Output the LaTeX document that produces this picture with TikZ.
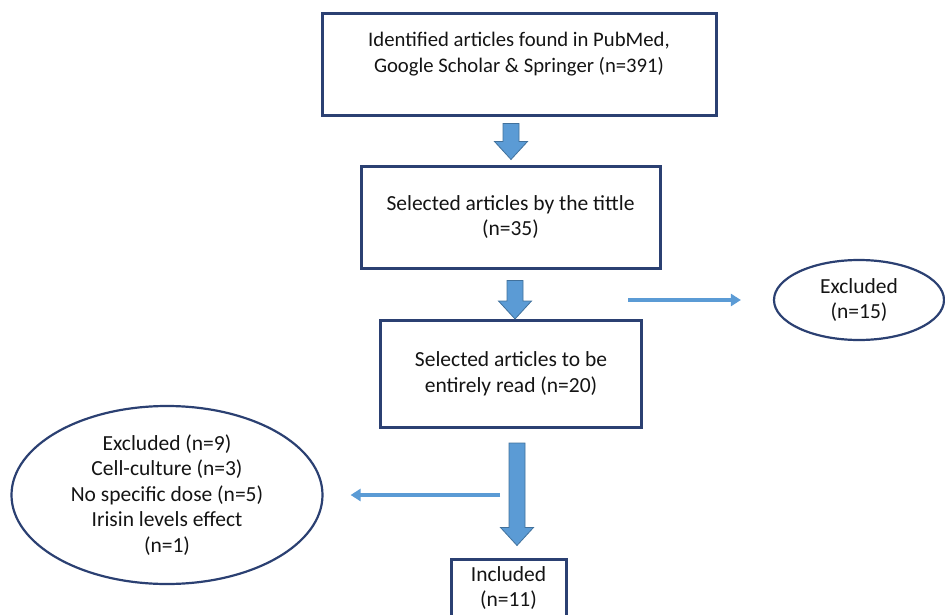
\documentclass[tikz,border=0pt]{standalone}
\usepackage{fontspec}
\setmainfont{Carlito}
\usetikzlibrary{shapes.geometric,arrows.meta,calc}
\definecolor{boxnavy}{HTML}{2B4072}
\definecolor{flowblue}{HTML}{5B9BD5}
\definecolor{flowedge}{HTML}{41719C}
% block arrow: #1 start of the shaft, #2 tip (only its y is used)
\newcommand{\flowdown}[2]{%
	\filldraw[flowarrow] let \p1=(#1), \p2=(#2) in (\x1-8pt,\y1)--(\x1+8pt,\y1)--(\x1+8pt,\y2+18pt)--(\x1+16.5pt,\y2+18pt)--(\x1,\y2)--(\x1-16.5pt,\y2+18pt)--(\x1-8pt,\y2+18pt)--cycle;}
\begin{document}
\begin{tikzpicture}[x=1pt,y=-1pt,
	font=\fontsize{21.5}{25.5}\selectfont,
	stage/.style={draw=boxnavy,line width=3pt,rectangle,align=center,inner sep=0pt,text=black!92},
	drop/.style={draw=boxnavy,line width=2.2pt,ellipse,align=center,inner sep=0pt,text=black!92},
	flowarrow/.style={fill=flowblue,draw=flowedge,line width=0.8pt,line join=miter},
	thinarrow/.style={draw=flowblue,line width=3.2pt,-{Triangle[length=10pt,width=12pt]}}]
	\useasboundingbox (0,0) rectangle (945,615);
	\node[stage,minimum width=394pt,minimum height=102pt,font=\fontsize{20.7}{25.5}\selectfont] (found) at (519,65) {Identified articles found in PubMed,\\Google Scholar \& Springer (n=391)\\\mbox{}};
	\node[stage,minimum width=299pt,minimum height=102pt] (title) at (510.5,217) {Selected articles by the tittle\\(n=35)};
	\node[stage,minimum width=261pt,minimum height=107pt] (read) at (511,374) {Selected articles to be\\entirely read (n=20)};
	\node[stage,minimum width=115pt,minimum height=58pt] (incl) at (508.5,588) {Included\\(n=11)};
	\node[drop,minimum width=170pt,minimum height=80pt] (excl1) at (859,300) {Excluded\\(n=15)};
	\node[drop,minimum width=311pt,minimum height=178pt] (excl2) at (167,495) {Excluded (n=9)\\Cell-culture (n=3)\\No specific dose (n=5)\\Irisin levels effect\\(n=1)};
	%\draw[step=10, gray!30](0,0)grid(945,615);
	\flowdown{[xshift=-8pt,yshift=-6pt]found.south}{[yshift=5pt]title.north}
	\flowdown{[xshift=4.5pt,yshift=-11pt]title.south}{read.north}
	\flowdown{[xshift=6pt,yshift=-14pt]read.south}{[yshift=12pt]incl.north}
	\coordinate (exA) at (628,300);
	\coordinate (exB) at (500,495);
	\draw[thinarrow] (exA) -- ([xshift=-32pt]excl1.west);
	\draw[thinarrow] (exB) -- ([xshift=27pt]excl2.east);
\end{tikzpicture}
\end{document}
